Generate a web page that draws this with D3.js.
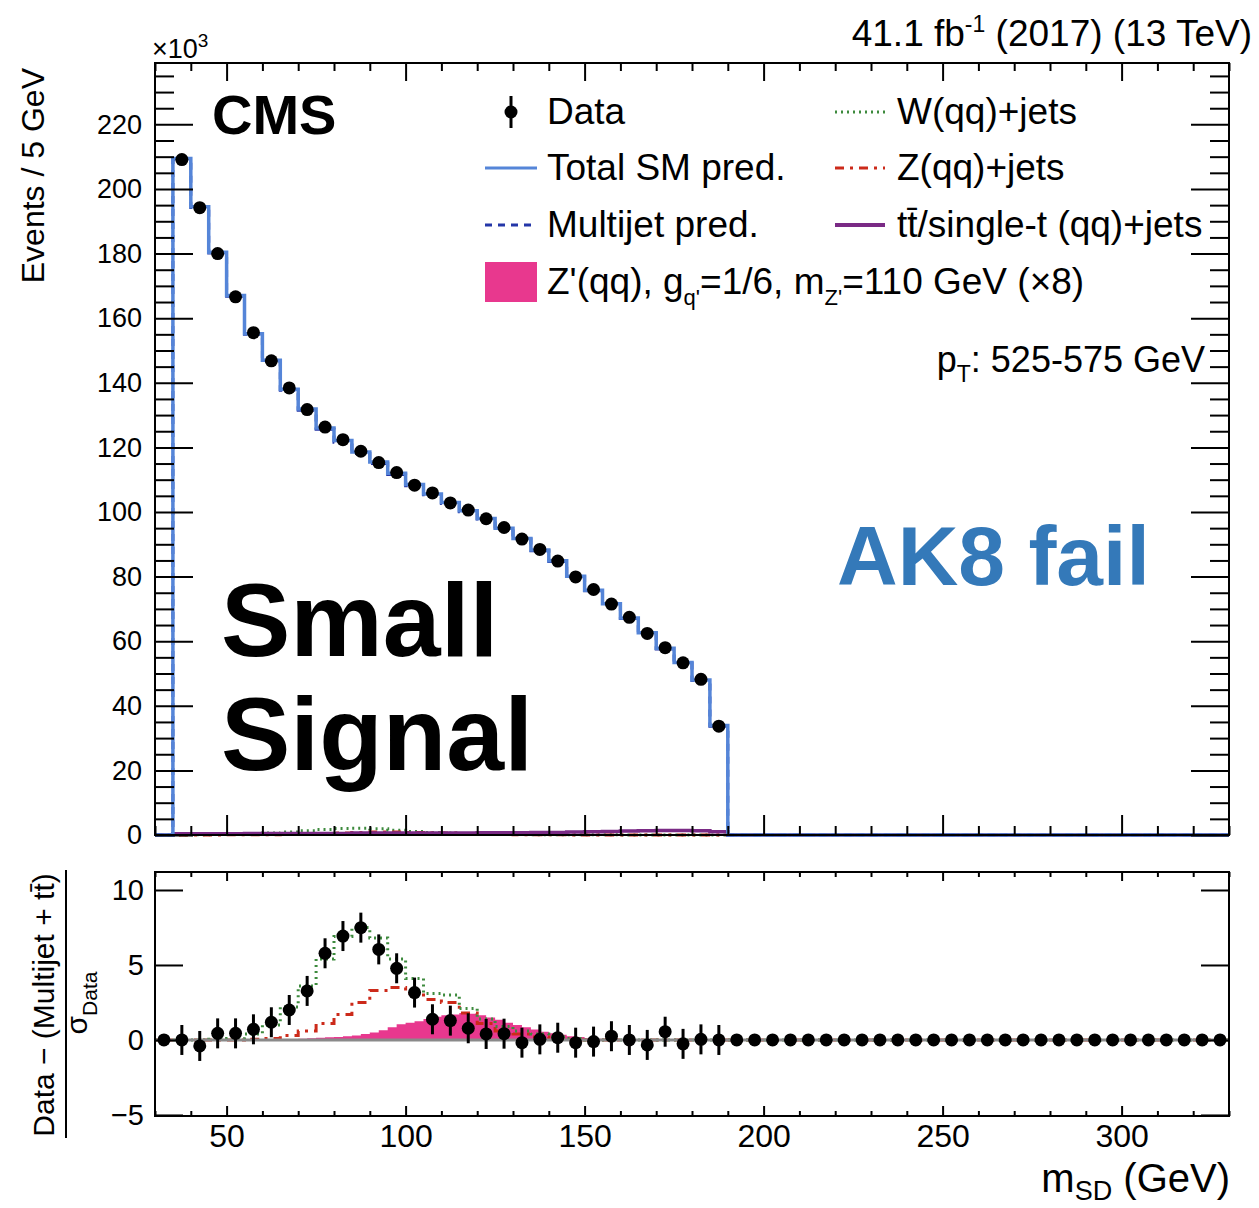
<!DOCTYPE html>
<html><head><meta charset="utf-8">
<script src="https://cdn.jsdelivr.net/npm/d3@7"></script>
<style>body{margin:0;background:#fff} text{font-family:"Liberation Sans",Arial,Helvetica,sans-serif;fill:#000}</style>
</head><body><svg id="c" width="1259" height="1208" xmlns="http://www.w3.org/2000/svg"></svg>
<script>
// ---------------- data ----------------
const binWidth = 5;
const histLo = 30, histHi = 330;
const topFirstEdge = 35;           // first non-empty bin of the upper histograms
// upper panel, events x10^3 per 5 GeV, bins 35-190
const dataTop  = [209.1,194.2,180.0,166.6,155.5,146.8,138.4,131.7,126.3,122.4,118.8,115.3,112.2,108.3,105.9,102.8,100.6,97.9,95.2,91.6,88.4,84.8,79.9,76.0,71.5,67.4,62.4,58.0,53.3,48.2,33.7];
const totalSM  = [209.4,194.5,180.4,167.0,155.2,147.0,138.0,131.9,126.0,122.1,118.6,115.5,112.0,108.5,105.6,102.9,100.4,98.0,95.0,91.8,88.2,84.9,80.1,75.8,71.6,67.2,62.6,57.8,53.4,48.0,33.9];
const multijet = [209.2,194.3,180.2,166.8,155.0,146.7,137.7,131.5,125.6,121.6,118.1,115.0,111.6,108.1,105.3,102.6,100.1,97.8,94.8,91.6,88.0,84.7,79.9,75.6,71.4,67.0,62.4,57.6,53.2,47.8,33.7];
const wjets    = [0.1,0.1,0.2,0.3,0.4,0.6,0.9,1.3,1.7,2.0,2.1,1.9,1.5,1.1,0.8,0.6,0.4,0.3,0.2,0.2,0.1,0.1,0.1,0.1,0.1,0,0,0,0,0,0];
const zjets    = [0,0,0,0.1,0.1,0.1,0.2,0.3,0.4,0.6,0.8,0.9,0.9,0.8,0.7,0.6,0.4,0.3,0.2,0.1,0.1,0.1,0,0,0,0,0,0,0,0,0];
const ttbar    = [0.4,0.4,0.4,0.4,0.5,0.5,0.5,0.5,0.5,0.5,0.6,0.6,0.6,0.6,0.6,0.6,0.6,0.7,0.7,0.7,0.8,0.8,0.9,1.0,1.1,1.2,1.3,1.4,1.4,1.3,1.0];
const sigTop   = [0,0,0,0,0,0,0.1,0.1,0.1,0.2,0.2,0.3,0.3,0.4,0.4,0.5,0.5,0.4,0.4,0.3,0.2,0.2,0.1,0.1,0,0,0,0,0,0,0];
// lower panel: (Data - (Multijet + tt)) / sigma_Data, bins 30-330
const ratioVals = [0,0.0,-0.4,0.44,0.44,0.71,1.18,2.0,3.27,5.78,6.93,7.49,6.04,4.78,3.16,1.38,1.29,0.78,0.4,0.42,-0.18,0.04,0.15,-0.18,-0.11,0.25,0,-0.33,0.55,-0.26,0.04,0,
                   0,0,0,0,0,0,0,0,0,0,0,0,0,0,0,0,0,0,0,0,0,0,0,0,0,0,0,0];
const ratioErr  = [0,1,1,1,1,1,1,1,1,1,1,1,1,1,1,1,1,1,1,1,1,1,1,1,1,1,1,1,1,1,1,1,
                   0,0,0,0,0,0,0,0,0,0,0,0,0,0,0,0,0,0,0,0,0,0,0,0,0,0,0,0];
// lower panel templates, bins 30-190
const wRatio = [0,0,0,0.05,0.1,0.4,1.0,2.2,3.6,5.4,6.9,7.5,6.8,5.4,4.1,3.1,3.0,2.1,1.4,0.9,0.6,0.4,0.2,0.1,0,0,0,0,0,0,0,0];
const zRatio = [0,0,0,0,0,0.05,0.1,0.3,0.6,1.1,1.7,2.5,3.3,3.5,3.1,2.7,2.5,1.8,1.1,0.6,0.4,0.2,0.1,0,0,0,0,0,0,0,0,0];
// signal (x8) in finer 2.5 GeV bins starting at 65 GeV
const sigRatioLo = 65, sigRatioWidth = 2.5;
const sigRatio = [0.02,0.05,0.08,0.12,0.15,0.18,0.2,0.25,0.3,0.4,0.5,0.65,0.85,1.05,1.15,1.25,1.4,1.55,1.65,1.7,1.8,1.75,1.65,1.5,1.35,1.15,1.0,0.85,0.7,0.55,0.45,0.35,0.25,0.2,0.12,0.08,0.05,0.03];
// ticks
const yTicksTop = [0,20,40,60,80,100,120,140,160,180,200,220];
const yTicksBot = [-5,0,5,10];
const xTicks = [50,100,150,200,250,300];

// ---------------- layout ----------------
const svg = d3.select("#c");
const L = 155, R = 1229, topT = 63, topB = 835, botT = 872, botB = 1116;
const x = d3.scaleLinear().domain([histLo, histHi]).range([L, R]);
const yTop = d3.scaleLinear().domain([0, 239]).range([topB, topT]);
const yBot = d3.scaleLinear().domain([-5.07, 11.2]).range([botB, botT]);

const C = {blue:"#5585d8", mj:"#2436a8", pink:"#e8388e", green:"#3d8a3d", red:"#cc2a1a", purple:"#7a2a85", ak8:"#3479b9"};

function stepPts(lo, w, vals){
  const p = vals.map((v,i)=>[lo+i*w, v]);
  p.push([lo+vals.length*w, vals[vals.length-1]]);
  return p;
}
function padTop(arr){ // bins 30..330 from bins starting at topFirstEdge
  const before = (topFirstEdge-histLo)/binWidth;
  const after = (histHi-histLo)/binWidth - before - arr.length;
  return Array(before).fill(0).concat(arr, Array(after).fill(0));
}
function padLow(arr){
  const after = (histHi-histLo)/binWidth - arr.length;
  return arr.concat(Array(after).fill(0));
}
const lineT = d3.line().x(d=>x(d[0])).y(d=>yTop(d[1])).curve(d3.curveStepAfter);
const lineB = d3.line().x(d=>x(d[0])).y(d=>yBot(d[1])).curve(d3.curveStepAfter);
const areaT = d3.area().x(d=>x(d[0])).y0(yTop(0)).y1(d=>yTop(d[1])).curve(d3.curveStepAfter);
const areaB = d3.area().x(d=>x(d[0])).y0(yBot(0)).y1(d=>yBot(d[1])).curve(d3.curveStepAfter);

// ---------------- upper panel ----------------
const gT = svg.append("g");
gT.append("path").attr("d", areaT(stepPts(histLo, binWidth, padTop(sigTop)))).attr("fill", C.pink);
gT.append("path").attr("d", lineT(stepPts(histLo, binWidth, padTop(wjets)))).attr("fill","none").attr("stroke",C.green).attr("stroke-width",3).attr("stroke-dasharray","2,4");
gT.append("path").attr("d", lineT(stepPts(histLo, binWidth, padTop(zjets)))).attr("fill","none").attr("stroke",C.red).attr("stroke-width",3).attr("stroke-dasharray","9,6,3,6");
gT.append("path").attr("d", lineT(stepPts(histLo, binWidth, padTop(ttbar)))).attr("fill","none").attr("stroke",C.purple).attr("stroke-width",3.5);
gT.append("path").attr("d", lineT(stepPts(histLo, binWidth, padTop(multijet)))).attr("fill","none").attr("stroke",C.mj).attr("stroke-width",3).attr("stroke-dasharray","7,6");
gT.append("path").attr("d", lineT(stepPts(histLo, binWidth, padTop(totalSM)))).attr("fill","none").attr("stroke",C.blue).attr("stroke-width",3.5);
gT.selectAll("circle.d").data(dataTop).join("circle")
  .attr("cx",(d,i)=>x(topFirstEdge + (i+0.5)*binWidth)).attr("cy",d=>yTop(d)).attr("r",6.5).attr("fill","#000");

// ---------------- lower panel ----------------
const gB = svg.append("g");
gB.append("path").attr("d", areaB(stepPts(sigRatioLo, sigRatioWidth, sigRatio.concat([0])))).attr("fill", C.pink);
gB.append("path").attr("d", lineB(stepPts(histLo, binWidth, padLow(zRatio)))).attr("fill","none").attr("stroke",C.red).attr("stroke-width",3).attr("stroke-dasharray","9,6,3,6");
gB.append("path").attr("d", lineB(stepPts(histLo, binWidth, padLow(wRatio)))).attr("fill","none").attr("stroke",C.green).attr("stroke-width",3).attr("stroke-dasharray","2,4");
gB.append("line").attr("x1",L).attr("x2",R).attr("y1",yBot(0)).attr("y2",yBot(0)).attr("stroke","#8a8a8a").attr("stroke-width",3);
const rc = (i)=>x(histLo + (i+0.5)*binWidth);
gB.selectAll("line.e").data(ratioVals).join("line")
  .attr("x1",(d,i)=>rc(i)).attr("x2",(d,i)=>rc(i))
  .attr("y1",(d,i)=>yBot(d-ratioErr[i])).attr("y2",(d,i)=>yBot(d+ratioErr[i]))
  .attr("stroke","#000").attr("stroke-width",3);
gB.selectAll("circle.r").data(ratioVals).join("circle")
  .attr("cx",(d,i)=>rc(i)).attr("cy",d=>yBot(d)).attr("r",6.5).attr("fill","#000");

// ---------------- axes ----------------
function styleAxis(g, fs){
  g.select(".domain").remove();
  g.selectAll(".tick line").attr("stroke","#000").attr("stroke-width",2);
  g.selectAll(".tick text").attr("font-size",fs).attr("fill","#000").style("font-family",'"Liberation Sans",Arial,sans-serif');
}
const minorX = d3.range(histLo, histHi+0.1, 10).filter(v=>v%50!==0);
const minorYTop = d3.range(0, 239, 5).filter(v=>v%20!==0);
// upper panel
styleAxis(svg.append("g").attr("transform",`translate(${L},0)`).call(d3.axisLeft(yTop).tickValues(yTicksTop).tickSize(-38).tickPadding(13)), 27);
styleAxis(svg.append("g").attr("transform",`translate(${L},0)`).call(d3.axisLeft(yTop).tickValues(minorYTop).tickSize(-19).tickFormat("")), 0);
styleAxis(svg.append("g").attr("transform",`translate(${R},0)`).call(d3.axisRight(yTop).tickValues(yTicksTop).tickSize(-38).tickFormat("")), 0);
styleAxis(svg.append("g").attr("transform",`translate(${R},0)`).call(d3.axisRight(yTop).tickValues(minorYTop).tickSize(-19).tickFormat("")), 0);
styleAxis(svg.append("g").attr("transform",`translate(0,${topT})`).call(d3.axisTop(x).tickValues(xTicks).tickSize(-18).tickFormat("")), 0);
styleAxis(svg.append("g").attr("transform",`translate(0,${topT})`).call(d3.axisTop(x).tickValues(minorX).tickSize(-8).tickFormat("")), 0);
styleAxis(svg.append("g").attr("transform",`translate(0,${topB})`).call(d3.axisBottom(x).tickValues(xTicks).tickSize(-20).tickFormat("")), 0);
styleAxis(svg.append("g").attr("transform",`translate(0,${topB})`).call(d3.axisBottom(x).tickValues(minorX).tickSize(-9).tickFormat("")), 0);
// lower panel
styleAxis(svg.append("g").attr("transform",`translate(${L},0)`).call(d3.axisLeft(yBot).tickValues(yTicksBot).tickSize(-28).tickPadding(11)), 29);
styleAxis(svg.append("g").attr("transform",`translate(${R},0)`).call(d3.axisRight(yBot).tickValues(yTicksBot).tickSize(-28).tickFormat("")), 0);
styleAxis(svg.append("g").attr("transform",`translate(0,${botT})`).call(d3.axisTop(x).tickValues(xTicks).tickSize(-9).tickFormat("")), 0);
styleAxis(svg.append("g").attr("transform",`translate(0,${botT})`).call(d3.axisTop(x).tickValues(minorX).tickSize(-5).tickFormat("")), 0);
styleAxis(svg.append("g").attr("transform",`translate(0,${botB})`).call(d3.axisBottom(x).tickValues(xTicks).tickSize(-10).tickPadding(8)), 32);
styleAxis(svg.append("g").attr("transform",`translate(0,${botB})`).call(d3.axisBottom(x).tickValues(minorX).tickSize(-5).tickFormat("")), 0);
// frames
svg.append("rect").attr("x",L).attr("y",topT).attr("width",R-L).attr("height",topB-topT).attr("fill","none").attr("stroke","#000").attr("stroke-width",2);
svg.append("rect").attr("x",L).attr("y",botT).attr("width",R-L).attr("height",botB-botT).attr("fill","none").attr("stroke","#000").attr("stroke-width",2);

// ---------------- texts ----------------
function txt(xp, yp, fs, anchor){ return svg.append("text").attr("x",xp).attr("y",yp).attr("font-size",fs).attr("text-anchor",anchor||"start"); }
// lumi
{const t = txt(1252, 46, 37, "end");
 t.append("tspan").text("41.1 fb");
 t.append("tspan").attr("font-size",23).attr("dy",-14).text("-1");
 t.append("tspan").attr("dy",14).text(" (2017) (13 TeV)");}
{const t = txt(152, 58, 27);
 t.append("tspan").text("×10");
 t.append("tspan").attr("font-size",19).attr("dy",-11).text("3");}
txt(212, 134, 56).attr("font-weight","bold").text("CMS");
{const t = txt(1205, 372, 36, "end");
 t.append("tspan").text("p");
 t.append("tspan").attr("font-size",23).attr("dy",10).text("T");
 t.append("tspan").attr("dy",-10).text(": 525-575 GeV");}
txt(837, 585, 84).attr("font-weight","bold").style("fill",C.ak8).text("AK8 fail");
txt(221, 656, 104).attr("font-weight","bold").text("Small");
txt(221, 770, 104).attr("font-weight","bold").text("Signal");

// legend
const legRows = [124, 180, 237, 294];
const lx1 = 485, lx2 = 537, ltx = 547, rx1 = 835, rx2 = 885, rtx = 897;
const legFs = 37;
// Data
svg.append("line").attr("x1",511).attr("x2",511).attr("y1",legRows[0]-28).attr("y2",legRows[0]+4).attr("stroke","#000").attr("stroke-width",3);
svg.append("circle").attr("cx",511).attr("cy",legRows[0]-12).attr("r",6.5).attr("fill","#000");
txt(ltx, legRows[0], legFs).text("Data");
svg.append("line").attr("x1",lx1).attr("x2",lx2).attr("y1",legRows[1]-12).attr("y2",legRows[1]-12).attr("stroke",C.blue).attr("stroke-width",3);
txt(ltx, legRows[1], legFs).text("Total SM pred.");
svg.append("line").attr("x1",lx1).attr("x2",lx2).attr("y1",legRows[2]-12).attr("y2",legRows[2]-12).attr("stroke",C.mj).attr("stroke-width",3).attr("stroke-dasharray","7,6");
txt(ltx, legRows[2], legFs).text("Multijet pred.");
svg.append("rect").attr("x",lx1).attr("y",legRows[3]-32).attr("width",lx2-lx1).attr("height",40).attr("fill",C.pink);
{const t = txt(ltx, legRows[3], legFs);
 t.append("tspan").text("Z'(qq), g");
 t.append("tspan").attr("font-size",22).attr("dy",11).text("q'");
 t.append("tspan").attr("dy",-11).text("=1/6, m");
 t.append("tspan").attr("font-size",22).attr("dy",11).text("Z'");
 t.append("tspan").attr("dy",-11).text("=110 GeV (×8)");}
svg.append("line").attr("x1",rx1).attr("x2",rx2).attr("y1",legRows[0]-12).attr("y2",legRows[0]-12).attr("stroke",C.green).attr("stroke-width",3).attr("stroke-dasharray","2,4");
txt(rtx, legRows[0], legFs).text("W(qq)+jets");
svg.append("line").attr("x1",rx1).attr("x2",rx2).attr("y1",legRows[1]-12).attr("y2",legRows[1]-12).attr("stroke",C.red).attr("stroke-width",3).attr("stroke-dasharray","9,6,3,6");
txt(rtx, legRows[1], legFs).text("Z(qq)+jets");
svg.append("line").attr("x1",rx1).attr("x2",rx2).attr("y1",legRows[2]-12).attr("y2",legRows[2]-12).attr("stroke",C.purple).attr("stroke-width",4);
txt(rtx, legRows[2], legFs).text("tt\u0304/single-t (qq)+jets");

// axis titles
svg.append("text").attr("transform","translate(44,68) rotate(-90)").attr("text-anchor","end").attr("font-size",32).text("Events / 5 GeV");
{const t = svg.append("text").attr("x",1230).attr("y",1192).attr("text-anchor","end").attr("font-size",40);
 t.append("tspan").text("m");
 t.append("tspan").attr("font-size",27).attr("dy",8).text("SD");
 t.append("tspan").attr("dy",-8).text(" (GeV)");}
svg.append("text").attr("transform","translate(54,1005) rotate(-90)").attr("text-anchor","middle").attr("font-size",30).text("Data − (Multijet + tt\u0304)");
svg.append("line").attr("x1",66).attr("x2",66).attr("y1",870).attr("y2",1138).attr("stroke","#000").attr("stroke-width",2);
{const t = svg.append("text").attr("transform","translate(87,1003) rotate(-90)").attr("text-anchor","middle").attr("font-size",30);
 t.append("tspan").text("σ");
 t.append("tspan").attr("font-size",21).attr("dy",10).text("Data");}
</script></body></html>
